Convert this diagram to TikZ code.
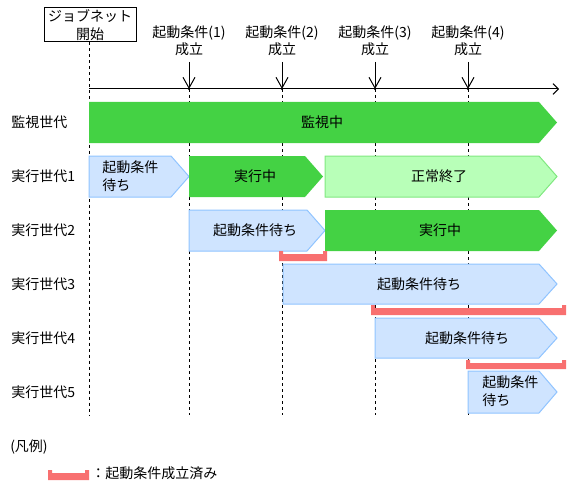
\documentclass[tikz,border=0pt]{standalone}
\usepackage{fontspec}
\setmainfont{Noto Sans CJK JP}
\usetikzlibrary{arrows.meta}
\definecolor{mgreen}{HTML}{44D244}
\definecolor{lgreen}{HTML}{B8FFB8}
\definecolor{lgreenb}{HTML}{80E880}
\definecolor{lblue}{HTML}{CFE4FF}
\definecolor{lblueb}{HTML}{90C4FF}
\definecolor{mred}{HTML}{F87070}
\newcommand{\pentshape}[5]{%
  \fill[#5] (#1,#2) -- (#3-18,#2) -- (#3,{(#2+#4)/2}) -- (#3-18,#4) -- (#1,#4) -- cycle;}
\newcommand{\donebar}[4]{%
  \fill[mred] (#1,#2) -- (#1+4,#2) -- (#1+4,#2+3) -- (#3-4,#2+3) -- (#3-4,#2) -- (#3,#2) -- (#3,#4) -- (#1,#4) -- cycle;}
\begin{document}
\begin{tikzpicture}[x=0.75pt,y=-0.75pt,
  every node/.style={font=\fontsize{10.5pt}{13pt}\selectfont, inner sep=0pt},
  txt/.style={align=center},
  rowlbl/.style={anchor=west},
  vdash/.style={draw=black, line width=0.75pt, dash pattern=on 2.25pt off 2.25pt},
  axisline/.style={draw=black, line width=0.75pt, -{Straight Barb[length=4pt,width=8pt]}},
  condarrow/.style={draw=black, line width=0.75pt, -{Straight Barb[length=8pt,width=9pt]}},
  greenshape/.style={fill=mgreen},
  lgreenshape/.style={fill=lgreen, draw=lgreenb, line width=0.75pt},
  blueshape/.style={fill=lblue, draw=lblueb, line width=0.75pt},
]
\useasboundingbox (0,0) rectangle (571,485);

% start box
\node[draw=black, line width=0.75pt, minimum width=92*0.75pt, minimum height=34*0.75pt, align=center, inner sep=0pt] (start) at (90,25) {ジョブネット\\開始};

% vertical dashed guides
\coordinate (d0t) at (89,42); \coordinate (d0b) at (89,415);
\draw[vdash] (start.south -| d0t) -- (d0b);
\foreach \i/\x in {1/189,2/282,3/375,4/468}{
  \coordinate (d\i t) at (\x,89);
  \coordinate (d\i b) at (\x,415);
  \draw[vdash] (d\i t) -- (d\i b);
}

% axis
\coordinate (axs) at (89,89);
\coordinate (axe) at (559,89);
\draw[axisline] (axs) -- (axe);

% condition labels and arrows
\foreach \i/\x in {1/189,2/282,3/375,4/468}{
  \node[txt] (cond\i) at (\x,41) {起動条件(\i)\\成立};
  \coordinate (ca\i) at (\x,62);
  \draw[condarrow] (ca\i) -- (d\i t);
  \fill (d\i t) circle (1.2);
}

% row labels
\node[rowlbl] (r0) at (11,122) {監視世代};
\node[rowlbl] (r1) at (11,176) {実行世代1};
\node[rowlbl] (r2) at (11,230) {実行世代2};
\node[rowlbl] (r3) at (11,284) {実行世代3};
\node[rowlbl] (r4) at (11,338) {実行世代4};
\node[rowlbl] (r5) at (11,392) {実行世代5};

% monitor row
\pentshape{89}{102}{557}{143}{greenshape}
\node (m0) at (322,122) {監視中};

% row 1
\pentshape{89}{156}{189}{197}{blueshape}
\node[anchor=west, align=left] (a1) at (102,176) {起動条件\\待ち};
\pentshape{189}{156}{323}{197}{greenshape}
\node (b1) at (255,176) {実行中};
\pentshape{325}{156}{557}{197}{lgreenshape}
\node (c1) at (439,176) {正常終了};

% row 2
\pentshape{189}{210}{325}{251}{blueshape}
\node (a2) at (255,230) {起動条件待ち};
\pentshape{325}{210}{557}{251}{greenshape}
\node (b2) at (440,230) {実行中};
\donebar{279}{251}{327}{261}

% row 3
\pentshape{283}{264}{557}{304}{blueshape}
\node (a3) at (419,284) {起動条件待ち};
\donebar{371}{305}{566}{315}

% row 4
\pentshape{375}{318}{557}{358}{blueshape}
\node (a4) at (467,338) {起動条件待ち};
\donebar{466}{360}{566}{369}

% row 5
\pentshape{468}{371}{557}{413}{blueshape}
\node[anchor=west, align=left] (a5) at (482,391) {起動条件\\待ち};

% legend
\node[anchor=west] (leg) at (10,447) {(凡例)};
\donebar{48}{470}{89}{480}
\node[anchor=west] (legt) at (91,473) {：起動条件成立済み};
\end{tikzpicture}
\end{document}
